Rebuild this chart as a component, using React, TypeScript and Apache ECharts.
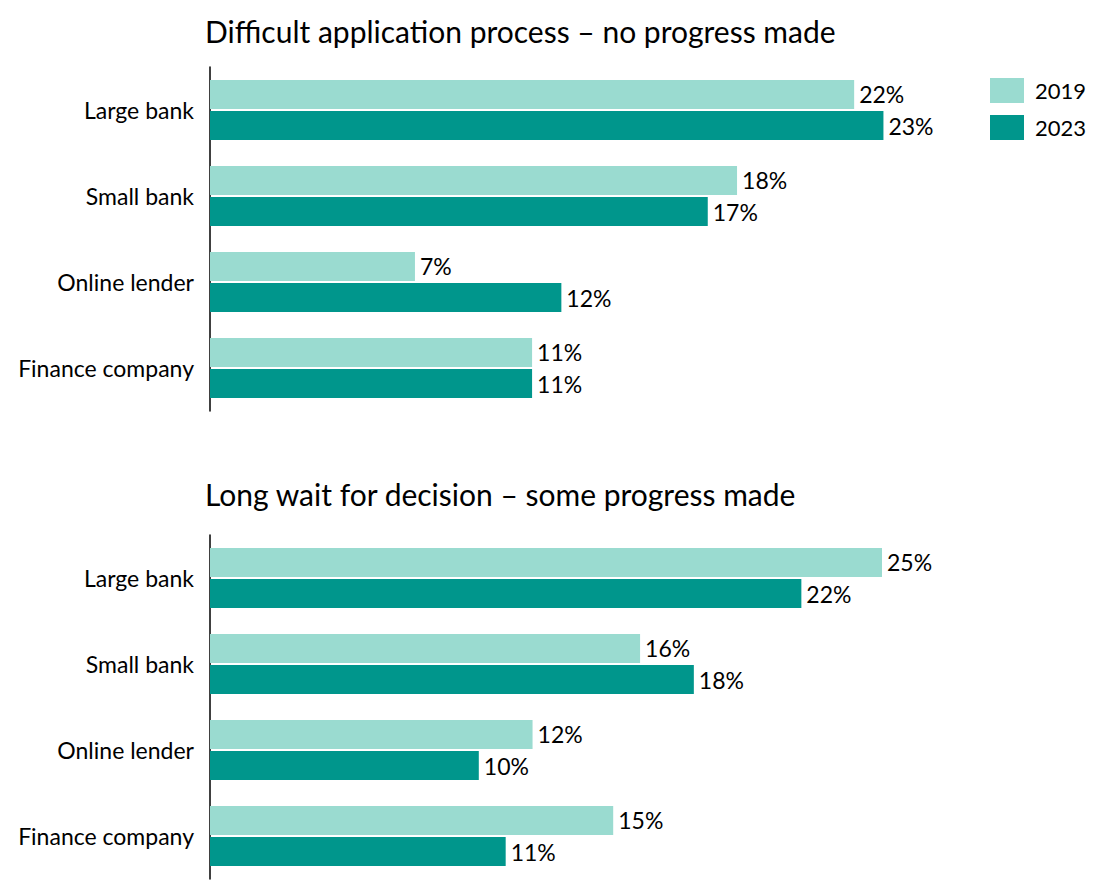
import React, { useEffect, useRef } from "react";
import * as echarts from "echarts";

const categories = ["Large bank", "Small bank", "Online lender", "Finance company"];
const years = ["2019", "2023"];
const top2019 = [22, 18, 7, 11];
const top2023 = [23, 17, 12, 11];
const bottom2019 = [25, 16, 12, 15];
const bottom2023 = [22, 18, 10, 11];
const titles = [
  "Difficult application process – no progress made",
  "Long wait for decision – some progress made",
];

const LIGHT = "#9ADBD0";
const DARK = "#00968C";
const FONT = "Lato, 'Open Sans', sans-serif";

export default function App() {
  const ref = useRef<HTMLDivElement>(null);
  useEffect(() => {
    if (!ref.current) return;
    const chart = echarts.init(ref.current, null, { renderer: "svg" });
    const mkSeries = (name: string, data: number[], idx: number, color: string) => ({
      name,
      type: "bar",
      xAxisIndex: idx,
      yAxisIndex: idx,
      data,
      barWidth: 29,
      barGap: "7%",
      itemStyle: { color },
      label: {
        show: true,
        position: "right",
        distance: 5,
        formatter: "{c}%",
        fontSize: 23,
        color: "#000",
        fontFamily: FONT,
      },
    });
    const catAxis = (gridIndex: number) => ({
      type: "category",
      gridIndex,
      data: categories,
      inverse: true,
      axisLine: { show: true, lineStyle: { color: "#000", width: 1.5 } },
      axisTick: { show: false },
      axisLabel: { fontSize: 23, color: "#000", fontFamily: FONT, margin: 16 },
    });
    const valAxis = (gridIndex: number) => ({
      type: "value",
      gridIndex,
      min: 0,
      max: 25,
      show: false,
      splitLine: { show: false },
    });
    chart.setOption({
      animation: false,
      backgroundColor: "#fff",
      textStyle: { fontFamily: FONT },
      title: [
        {
          text: titles[0],
          left: 200,
          top: 11,
          textStyle: { fontSize: 30, fontWeight: "normal", color: "#000", fontFamily: FONT },
        },
        {
          text: titles[1],
          left: 200,
          top: 474,
          textStyle: { fontSize: 30, fontWeight: "normal", color: "#000", fontFamily: FONT },
        },
      ],
      legend: {
        data: years,
        orient: "vertical",
        left: 990,
        top: 78,
        padding: 0,
        itemWidth: 34,
        itemHeight: 25,
        itemGap: 12,
        icon: "rect",
        textStyle: { fontSize: 22, color: "#000", fontFamily: FONT, padding: [0, 0, 0, 6] },
      },
      grid: [
        { left: 210, top: 67, width: 732, height: 344 },
        { left: 210, top: 535, width: 672, height: 344 },
      ],
      xAxis: [valAxis(0), valAxis(1)],
      yAxis: [catAxis(0), catAxis(1)],
      series: [
        mkSeries("2019", top2019, 0, LIGHT),
        mkSeries("2023", top2023, 0, DARK),
        mkSeries("2019", bottom2019, 1, LIGHT),
        mkSeries("2023", bottom2023, 1, DARK),
      ],
    });
    return () => chart.dispose();
  }, []);
  return <div ref={ref} style={{ width: 1101, height: 890, position: "absolute", left: 0, top: 0 }} />;
}
